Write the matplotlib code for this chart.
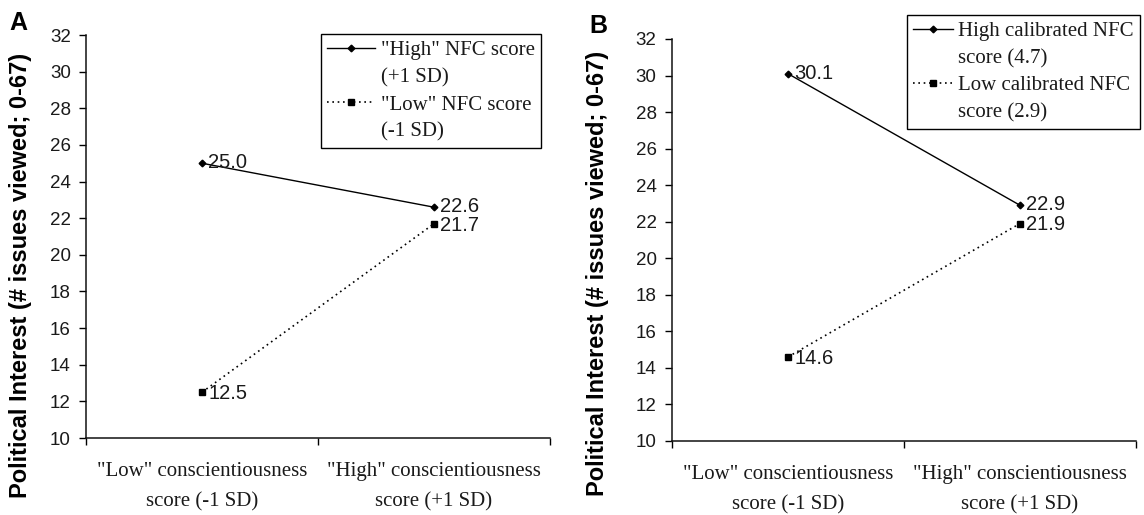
import matplotlib
matplotlib.use("Agg")
import matplotlib.pyplot as plt
from matplotlib.lines import Line2D

# Conscientiousness levels on the x axis
categories = ['"Low" conscientiousness\nscore (-1 SD)',
              '"High" conscientiousness\nscore (+1 SD)']

# Panel A: simple slopes at +/-1 SD of NFC
a_high = [25.0, 22.6]
a_low = [12.5, 21.7]
a_labels = ['"High" NFC score', '(+1 SD)', '"Low" NFC score', '(-1 SD)']

# Panel B: calibrated NFC scores
b_high = [30.1, 22.9]
b_low = [14.6, 21.9]
b_labels = ['High calibrated NFC', 'score (4.7)', 'Low calibrated NFC', 'score (2.9)']

y_ticks = list(range(10, 33, 2))
ylabel = "Political Interest (# issues viewed; 0-67)"

SANS = "Liberation Sans"
SERIF = "Liberation Serif"
INK = "#1a1a1a"

fig = plt.figure(figsize=(11.44, 5.15), dpi=100)
fig.patch.set_facecolor("white")

def panel(rect, high, low, labels, legend_anchor, handlelength):
    ax = fig.add_axes(rect)
    xs = [0.5, 1.5]
    ax.plot(xs, high, color="black", lw=1.0, ls="-", marker="D", ms=3.4,
            mfc="black", mec="black")
    ax.plot(xs, low, color="black", lw=1.2, ls=(0, (1, 2.2)), marker="s",
            ms=4.6, mfc="black", mec="black")
    for x, v in zip(xs, high):
        ax.annotate(f"{v:.1f}", (x, v), xytext=(4.5, 0.5), textcoords="offset points",
                    ha="left", va="center", fontsize=14.5, family=SANS, color=INK)
    for x, v in zip(xs, low):
        ax.annotate(f"{v:.1f}", (x, v), xytext=(4.5, -1), textcoords="offset points",
                    ha="left", va="center", fontsize=14.5, family=SANS, color=INK)

    ax.set_xlim(0, 2)
    ax.set_ylim(10, 32)
    ax.set_yticks(y_ticks)
    ax.set_yticklabels([str(t) for t in y_ticks], fontsize=13.5, family=SANS,
                       color=INK)
    ax.set_xticks([0, 1, 2])
    ax.set_xticklabels([])
    ax.set_xticks(xs, minor=True)
    ax.set_xticklabels(categories, minor=True, fontsize=15, family=SERIF,
                       color=INK, linespacing=1.8)
    ax.tick_params(axis="x", which="minor", length=0, pad=17.5)
    ax.tick_params(axis="x", which="major", length=5, width=1, direction="out")
    ax.tick_params(axis="y", length=5, width=1, direction="out", pad=6)
    for s in ("top", "right"):
        ax.spines[s].set_visible(False)
    for s in ("left", "bottom"):
        ax.spines[s].set_linewidth(1.1)
        ax.spines[s].set_color("#111111")

    handles = [
        Line2D([], [], color="black", lw=1.0, marker="D", ms=3.4),
        Line2D([], [], color="none"),
        Line2D([], [], color="black", lw=1.2, ls=(0, (1, 2.2)), marker="s", ms=4.6),
        Line2D([], [], color="none"),
    ]
    leg = ax.legend(handles, labels, loc="upper right", bbox_to_anchor=legend_anchor,
                    prop={"family": SERIF, "size": 15}, frameon=True, fancybox=False,
                    edgecolor="black", framealpha=1, handlelength=handlelength,
                    handletextpad=0.25, labelspacing=0.36, borderpad=0.32,
                    borderaxespad=0)
    leg.get_frame().set_linewidth(1.0)
    for t in leg.get_texts():
        t.set_color(INK)
    return ax

panel([0.0752, 0.1495, 0.4056, 0.7825], a_high, a_low, a_labels, (0.981, 1.002), 2.3)
panel([0.5874, 0.1437, 0.4056, 0.7806], b_high, b_low, b_labels, (1.009, 1.06), 1.9)

fig.text(0.0175, 0.466, ylabel, rotation=90, ha="center", va="center",
         fontsize=17, fontweight="bold", family=SANS)
fig.text(0.522, 0.47, ylabel, rotation=90, ha="center", va="center",
         fontsize=17, fontweight="bold", family=SANS)
fig.text(0.008, 0.955, "A", fontsize=18, fontweight="bold", family=SANS,
         ha="left", va="center")
fig.text(0.515, 0.95, "B", fontsize=18, fontweight="bold", family=SANS,
         ha="left", va="center")

fig.savefig("out.png", dpi=100, facecolor="white")
